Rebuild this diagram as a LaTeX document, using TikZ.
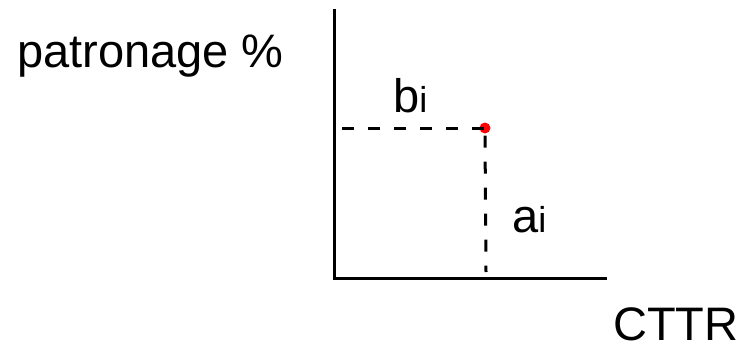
\documentclass[tikz,border=0pt]{standalone}
\usepackage{fontspec}
\setmainfont{Liberation Sans}
\begin{document}
\begin{tikzpicture}[x=1pt,y=-1pt,
  lbl/.style={anchor=base west,inner sep=0pt,font=\fontsize{47}{50}\selectfont},
  axisline/.style={line width=3pt},
  guide/.style={line width=3pt,dash pattern=on 12pt off 14pt}]
\useasboundingbox (0,0) rectangle (747,353);
\coordinate (top) at (334.5,9);
\coordinate (origin) at (334.5,278.5);
\coordinate (xend) at (607,278.5);
\coordinate (hstart) at (342,128);
\coordinate (vend) at (486,272);
\node[circle,fill=red,inner sep=0pt,minimum size=11pt] (pt) at (485,128) {};
\draw[axisline] (top) -- (origin.south) -- (xend);
\draw[guide] (hstart) -- (pt.center);
\draw[guide] ([yshift=-2pt]pt.south) -- (vend);
\node[lbl] (ylab) at (17,67) {patronage \%};
\node[lbl] (blab) at (393,112) {b{\fontsize{36}{40}\selectfont i}};
\node[lbl] (alab) at (512,232) {a{\fontsize{36}{40}\selectfont i}};
\node[lbl] (xlab) at (613,340) {CTTR};
\end{tikzpicture}
\end{document}
